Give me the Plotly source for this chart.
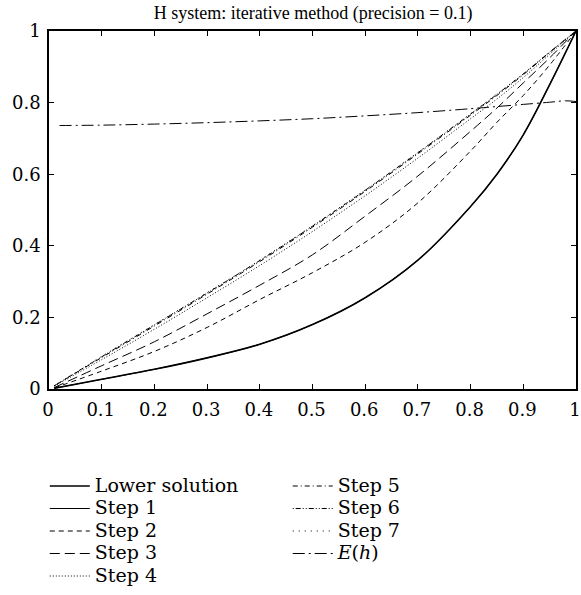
import plotly.graph_objects as go

# ---- data ----
h = [0.01, 0.1, 0.2, 0.3, 0.4, 0.5, 0.6, 0.7, 0.8, 0.85, 0.9, 0.95, 1.0]
lower_solution = [0.002, 0.027, 0.055, 0.087, 0.125, 0.18, 0.255, 0.36, 0.51, 0.60, 0.71, 0.85, 1.0]
step1 = [0.002, 0.027, 0.055, 0.087, 0.125, 0.18, 0.255, 0.36, 0.51, 0.60, 0.71, 0.85, 1.0]
step2 = [0.003, 0.05, 0.105, 0.172, 0.25, 0.325, 0.41, 0.52, 0.665, 0.745, 0.82, 0.905, 1.0]
step3 = [0.004, 0.065, 0.132, 0.21, 0.29, 0.375, 0.483, 0.595, 0.72, 0.785, 0.855, 0.925, 1.0]
step4 = [0.008, 0.082, 0.167, 0.255, 0.345, 0.44, 0.54, 0.645, 0.755, 0.81, 0.87, 0.935, 1.0]
step5 = [0.009, 0.088, 0.176, 0.265, 0.356, 0.452, 0.552, 0.657, 0.765, 0.82, 0.878, 0.94, 1.0]
step6 = [0.009, 0.09, 0.179, 0.268, 0.359, 0.455, 0.555, 0.66, 0.768, 0.823, 0.88, 0.941, 1.0]
step7 = [0.009, 0.091, 0.18, 0.269, 0.36, 0.456, 0.556, 0.661, 0.769, 0.824, 0.881, 0.941, 1.0]
h_E = [0.02, 0.1, 0.2, 0.3, 0.4, 0.5, 0.6, 0.7, 0.8, 0.85, 0.9, 0.95, 0.98, 1.0]
E_h = [0.736, 0.737, 0.740, 0.744, 0.749, 0.755, 0.763, 0.772, 0.783, 0.789, 0.795, 0.801, 0.805, 0.803]

x_ticks = [0, 0.1, 0.2, 0.3, 0.4, 0.5, 0.6, 0.7, 0.8, 0.9, 1]
x_tick_labels = ["0", "0.1", "0.2", "0.3", "0.4", "0.5", "0.6", "0.7", "0.8", "0.9", "1"]
y_ticks = [0, 0.2, 0.4, 0.6, 0.8, 1]
y_tick_labels = ["0", "0.2", "0.4", "0.6", "0.8", "1"]

TICK_FONT = "DejaVu Serif"
TITLE_FONT = "Liberation Serif"

series = [
    ("Lower solution", h, lower_solution, "solid", 1.6, "legend"),
    ("Step 1", h, step1, "solid", 1.0, "legend"),
    ("Step 2", h, step2, "5px,4px", 1.0, "legend"),
    ("Step 3", h, step3, "10px,5px", 1.0, "legend"),
    ("Step 4", h, step4, "1px,2px", 1.0, "legend"),
    ("Step 5", h, step5, "5px,3px,1px,3px", 1.0, "legend2"),
    ("Step 6", h, step6, "1px,2px,5px,2px,1px,2px", 1.0, "legend2"),
    ("Step 7", h, step7, "1px,5px", 1.0, "legend2"),
    ("<i>E</i>(<i>h</i>)", h_E, E_h, "12px,4px,2px,4px", 1.0, "legend2"),
]

fig = go.Figure()
for name, xs, ys, dash, w, lg in series:
    fig.add_trace(go.Scatter(
        x=xs, y=ys, mode="lines", legend=lg,
        name='<span style="font-size:19px">' + name + '</span>',
        line=dict(color="black", width=w, dash=dash, shape="spline", smoothing=1.0),
    ))

axis_common = dict(
    showgrid=False, zeroline=False, showline=True, linecolor="black", linewidth=1.5,
    mirror="ticks", ticks="inside", ticklen=5, tickcolor="black", tickwidth=1,
    tickfont=dict(family=TICK_FONT, size=18, color="black"), automargin=False,
    ticklabeloverflow="allow",
)

legend_common = dict(
    yanchor="top", xanchor="left", itemwidth=40, tracegroupgap=0,
    font=dict(family=TICK_FONT, size=15, color="black"),
    bgcolor="rgba(0,0,0,0)", borderwidth=0,
)

fig.update_layout(
    width=581, height=595,
    margin=dict(l=49, r=5, t=31, b=206, autoexpand=False),
    paper_bgcolor="white", plot_bgcolor="white",
    title=dict(text="H system: iterative method (precision = 0.1)",
               x=0.539, xanchor="center", y=0.978, yanchor="middle",
               font=dict(family=TITLE_FONT, size=18, color="black")),
    xaxis=dict(range=[0, 1], tickvals=x_ticks, ticktext=x_tick_labels,
               ticklabelstandoff=4, ticklabelshift=-1, **axis_common),
    yaxis=dict(range=[0, 1], tickvals=y_ticks, ticktext=y_tick_labels,
               ticklabelstandoff=3, **axis_common),
    legend=dict(x=-0.008, y=-0.2256, **legend_common),
    legend2=dict(x=0.453, y=-0.2256, **legend_common),
)

fig.write_html(
    "out.html",
    config={"displayModeBar": False},
    post_script="document.body.style.margin='0';document.body.style.overflow='hidden';",
)
